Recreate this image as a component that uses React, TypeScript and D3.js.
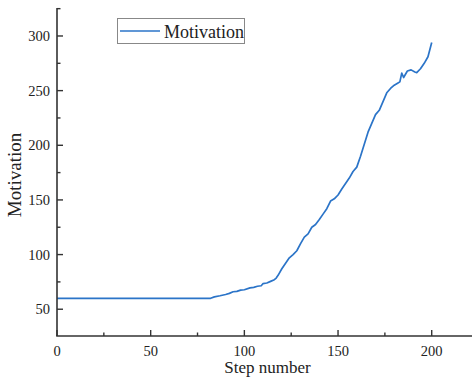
import React from "react";
import * as d3 from "d3";

const steps = [0, 82, 84, 87, 90, 92, 94, 96, 98, 100, 103, 105, 107, 109, 110, 112, 114, 116, 117, 118, 120, 122, 124, 126, 128, 130, 132, 134, 136, 138, 140, 142, 144, 146, 148, 150, 152, 154, 156, 158, 160, 162, 164, 166, 168, 170, 172, 174, 176, 178, 180, 182, 183, 184, 185, 187, 189, 191, 192, 194, 196, 198, 200];
const motivation = [60, 60, 61.3, 62.3, 63.5, 64.5, 66, 66.3, 67.5, 67.8, 69.5, 70, 71, 71.5, 73.5, 74, 75.5, 77, 78.5, 81, 87, 92, 97, 100, 103.5, 110, 116, 119, 125, 127.5, 132, 137, 142, 149, 151, 154.5, 160, 165, 170, 176, 180, 190, 201, 212, 220, 228, 232, 240, 248, 252, 255, 257, 258, 266, 262, 268, 269, 267, 266.5, 270, 275, 281, 294];
const xTicks = [0, 50, 100, 150, 200];
const yTicks = [50, 100, 150, 200, 250, 300];
const xMinor = [25, 75, 125, 175];
const yMinor = [75, 125, 175, 225, 275, 325];

const W = 472, H = 382;
const left = 57, right = 472, top = 8, bottom = 336;
const FONT = "'Liberation Serif', 'Times New Roman', serif";

export default function App() {
  const x = d3.scaleLinear().domain([0, 221.5]).range([left, right]);
  const y = d3.scaleLinear().domain([25.5, 325.6]).range([bottom, top]);
  const pts = steps.map((s, i) => [s, motivation[i]] as [number, number]);
  const line = d3.line<[number, number]>().x(d => x(d[0])).y(d => y(d[1]));
  const axisColor = "#333";
  return (
    <svg width={W} height={H} style={{ position: "absolute", left: 0, top: 0, background: "#fff" }}>
      <rect width={W} height={H} fill="#fff" />
      <path d={line(pts) || ""} fill="none" stroke="#2b74c8" strokeWidth={1.7} strokeLinejoin="round" />
      <line x1={left} x2={left} y1={top} y2={bottom} stroke={axisColor} strokeWidth={1.6} />
      <line x1={left - 0.8} x2={right} y1={bottom} y2={bottom} stroke={axisColor} strokeWidth={1.6} />
      {xTicks.map(t => (
        <g key={"xt" + t}>
          <line x1={x(t)} x2={x(t)} y1={bottom} y2={bottom - 6} stroke={axisColor} strokeWidth={1.4} />
          <text x={x(t)} y={356} textAnchor="middle" fontFamily={FONT} fontSize={14.5} fill="#222">{t}</text>
        </g>
      ))}
      {xMinor.map(t => (
        <line key={"xm" + t} x1={x(t)} x2={x(t)} y1={bottom} y2={bottom - 3.5} stroke={axisColor} strokeWidth={1.4} />
      ))}
      {yTicks.map(t => (
        <g key={"yt" + t}>
          <line x1={left} x2={left + 6} y1={y(t)} y2={y(t)} stroke={axisColor} strokeWidth={1.4} />
          <text x={50} y={y(t) + 5} textAnchor="end" fontFamily={FONT} fontSize={14.5} fill="#222">{t}</text>
        </g>
      ))}
      {yMinor.map(t => (
        <line key={"ym" + t} x1={left} x2={left + 3.5} y1={y(t)} y2={y(t)} stroke={axisColor} strokeWidth={1.4} />
      ))}
      <text x={267.5} y={373} textAnchor="middle" fontFamily={FONT} fontSize={17} fill="#222">Step number</text>
      <text transform="translate(20.5,175) rotate(-90)" textAnchor="middle" fontFamily={FONT} fontSize={19} fill="#222">Motivation</text>
      <rect x={117.5} y={18.5} width={127} height={25} fill="#fff" stroke="#888" strokeWidth={1} />
      <line x1={120} x2={160} y1={31} y2={31} stroke="#2b74c8" strokeWidth={1.7} />
      <text x={164} y={37.5} fontFamily={FONT} fontSize={18} fill="#222">Motivation</text>
    </svg>
  );
}
